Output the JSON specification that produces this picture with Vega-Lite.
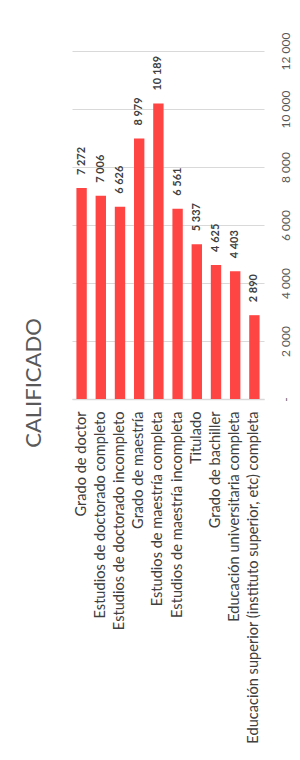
{
  "$schema": "https://vega.github.io/schema/vega-lite/v6.json",
  "width": 192,
  "height": 348,
  "autosize": {"type": "none"},
  "padding": {"left": 72, "top": 51, "right": 36, "bottom": 361},
  "background": "white",
  "title": {
    "text": "CALIFICADO",
    "orient": "left",
    "anchor": "middle",
    "frame": "group",
    "offset": 26,
    "dx": -158,
    "fontSize": 22,
    "font": "Lato",
    "fontWeight": "normal",
    "color": "#595959"
  },
  "data": {
    "values": [
      {"nivel": "Grado de doctor", "valor": 7272},
      {"nivel": "Estudios de doctorado completo", "valor": 7006},
      {"nivel": "Estudios de doctorado incompleto", "valor": 6626},
      {"nivel": "Grado de maestría", "valor": 8979},
      {"nivel": "Estudios de maestría completa", "valor": 10189},
      {"nivel": "Estudios de maestría incompleta", "valor": 6561},
      {"nivel": "Titulado", "valor": 5337},
      {"nivel": "Grado de bachiller", "valor": 4625},
      {"nivel": "Educación universitaria completa", "valor": 4403},
      {"nivel": "Educación superior (instituto superior, etc) completa", "valor": 2890}
    ]
  },
  "encoding": {
    "x": {
      "field": "nivel",
      "type": "nominal",
      "sort": null,
      "scale": {"paddingInner": 0.46, "paddingOuter": 0.23},
      "axis": {
        "title": null,
        "labelAngle": -90,
        "labelAlign": "right",
        "labelBaseline": "middle",
        "labelPadding": 12,
        "labelLimit": 0,
        "labelFont": "Lato",
        "labelFontSize": 14.6,
        "labelColor": "#404040",
        "ticks": false,
        "domainColor": "#d9d9d9",
        "domainWidth": 1.5
      }
    },
    "y": {
      "field": "valor",
      "type": "quantitative",
      "scale": {"domain": [0, 12000], "nice": false},
      "axis": {
        "orient": "right",
        "title": null,
        "values": [0, 2000, 4000, 6000, 8000, 10000, 12000],
        "labelExpr": "datum.value == 0 ? '-' : format(datum.value, ',')",
        "labelAngle": -90,
        "labelAlign": "center",
        "labelBaseline": "top",
        "labelPadding": 16,
        "labelFont": "Lato",
        "labelFontSize": 12,
        "labelColor": "#595959",
        "ticks": false,
        "domain": false,
        "grid": true,
        "gridColor": "#d9d9d9",
        "gridWidth": 1
      }
    }
  },
  "layer": [
    {"mark": {"type": "bar", "color": "#FF4444"}},
    {
      "mark": {
        "type": "text",
        "angle": -90,
        "align": "left",
        "baseline": "middle",
        "dx": 13,
        "font": "Lato",
        "fontSize": 11,
        "fontWeight": "bold",
        "color": "#404040"
      },
      "encoding": {"text": {"field": "valor", "type": "quantitative", "format": ","}}
    }
  ],
  "config": {
    "view": {"stroke": null},
    "locale": {
      "number": {"decimal": ",", "thousands": " ", "grouping": [3], "currency": ["", ""]}
    }
  }
}
